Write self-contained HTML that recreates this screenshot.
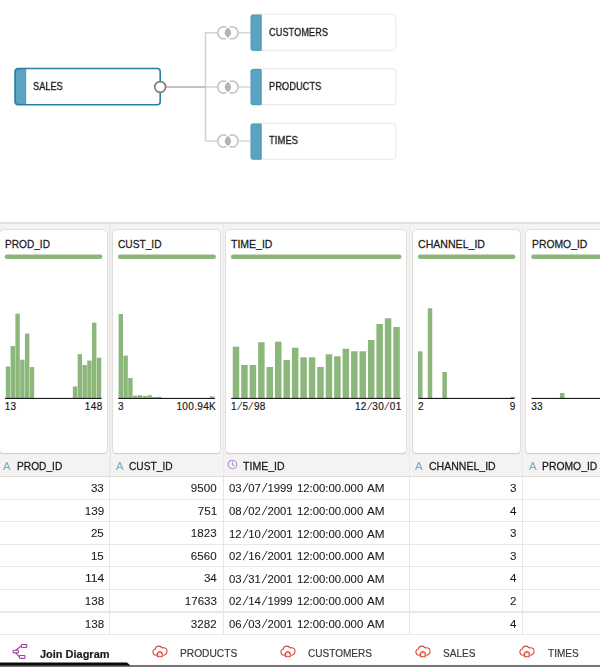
<!DOCTYPE html>
<html lang="en"><head><meta charset="utf-8"><title>Join Diagram</title>
<style>
html,body{margin:0;padding:0;background:#fff}
body{width:600px;height:667px;overflow:hidden;position:relative;font-family:"Liberation Sans",sans-serif;color:#1b1917}
#app{position:absolute;left:0;top:0;width:600px;height:667px;overflow:hidden;background:#fff}
.t{position:absolute;white-space:nowrap;line-height:1;display:block;-webkit-text-stroke:0.17px currentColor}
.dg,.hs,.ic{position:absolute;left:0;top:0;overflow:visible}
.sl{font-style:normal;display:inline-block;width:6.6px;text-align:center;transform:skewX(-16deg) scaleY(1.1);-webkit-text-stroke:0}
.s2{width:5.6px}
.lb{letter-spacing:0.35px}
.t.dl{-webkit-text-stroke:0.32px currentColor;will-change:transform}
.t.hd{-webkit-text-stroke:0.26px currentColor}
.t.n{-webkit-text-stroke:0.08px currentColor}
.sep{position:absolute;left:0;top:222.3px;width:600px;height:1.6px;background:#e0dfdd}
.grey{position:absolute;left:0;top:224px;width:600px;height:252px;background:#f4f3f1}
.card{position:absolute;top:229.7px;height:223.4px;background:#fff;border-radius:4px;box-shadow:0 0 0 0.8px #dbdad8,0 0.9px 1px 0 rgba(0,0,0,.27);box-sizing:border-box}
.tbl{position:absolute;left:0;top:475.9px;width:600px;height:158.7px;background:#fff;border-top:1px solid #dfdedc;border-bottom:1.2px solid #d9d8d6;box-sizing:border-box}
.hl{position:absolute;left:0;width:600px;height:1.3px;margin-top:-0.15px;background:#e9e8e6}
.vl{position:absolute;top:224px;height:252px;width:1.6px;margin-left:-0.3px;background:#ebeae8}
.vl2{position:absolute;top:476.5px;height:158px;width:1.3px;margin-left:-0.15px;background:#e7e6e4}
.tabs{position:absolute;left:0;top:635px;width:600px;height:32px;background:#fff}
.botline{position:absolute;left:0;top:664.6px;width:600px;height:2.4px;background:#757575}
</style></head><body><div id="app">
<section id="diagram"><svg class="dg" width="600" height="222" viewBox="0 0 600 222"><path d="M217 32.8 H205.5 V141.0 H217" fill="none" stroke="#d3d3d3" stroke-width="1.5"/><path d="M205.5 87.0 H217" fill="none" stroke="#d3d3d3" stroke-width="1.5"/><path d="M239 32.8 H250" stroke="#d6d6d6" stroke-width="1.5"/><path d="M239 87 H250" stroke="#d6d6d6" stroke-width="1.5"/><path d="M239 141 H250" stroke="#d6d6d6" stroke-width="1.5"/><path d="M165.5 87.0 H205.5" stroke="#b1b1b1" stroke-width="1.5"/><path d="M226.10 27.28 A6 6 0 1 0 226.10 38.32 M229.70 27.28 A6 6 0 1 1 229.70 38.32" fill="none" stroke="#c3c3c3" stroke-width="1.5"/><path d="M227.90 27.60 Q234.50 32.80 227.90 38.00 Q221.30 32.80 227.90 27.60 Z" fill="#b3b3b3"/><path d="M226.10 81.48 A6 6 0 1 0 226.10 92.52 M229.70 81.48 A6 6 0 1 1 229.70 92.52" fill="none" stroke="#c3c3c3" stroke-width="1.5"/><path d="M227.90 81.80 Q234.50 87.00 227.90 92.20 Q221.30 87.00 227.90 81.80 Z" fill="#b3b3b3"/><path d="M226.10 135.48 A6 6 0 1 0 226.10 146.52 M229.70 135.48 A6 6 0 1 1 229.70 146.52" fill="none" stroke="#c3c3c3" stroke-width="1.5"/><path d="M227.90 135.80 Q234.50 141.00 227.90 146.20 Q221.30 141.00 227.90 135.80 Z" fill="#b3b3b3"/><rect x="251.3" y="14.2" width="144.5" height="36.1" rx="3" fill="#fff" stroke="#e7e7e7"/><path d="M252.5 15 h8.7 v35.3 h-8.7 a1.5 1.5 0 0 1 -1.5 -1.5 v-32.3 a1.5 1.5 0 0 1 1.5 -1.5z" fill="#5ba4c1" stroke="#4899b9" stroke-width="1"/><rect x="251.3" y="68.7" width="144.5" height="36" rx="3" fill="#fff" stroke="#e7e7e7"/><path d="M252.5 69.5 h8.7 v35.2 h-8.7 a1.5 1.5 0 0 1 -1.5 -1.5 v-32.2 a1.5 1.5 0 0 1 1.5 -1.5z" fill="#5ba4c1" stroke="#4899b9" stroke-width="1"/><rect x="251.3" y="123.2" width="144.5" height="36" rx="3" fill="#fff" stroke="#e7e7e7"/><path d="M252.5 124 h8.7 v35.2 h-8.7 a1.5 1.5 0 0 1 -1.5 -1.5 v-32.2 a1.5 1.5 0 0 1 1.5 -1.5z" fill="#5ba4c1" stroke="#4899b9" stroke-width="1"/><rect x="15.2" y="68.5" width="145" height="36.2" rx="3" fill="#fff"/><path d="M17.5 69 h8.2 v35.2 h-8.2 a2.5 2.5 0 0 1 -2.5 -2.5 v-30.2 a2.5 2.5 0 0 1 2.5 -2.5z" fill="#5ba4c1" stroke="#4899b9" stroke-width="1"/><rect x="15.2" y="68.5" width="145" height="36.2" rx="3" fill="none" stroke="#2a7fa3" stroke-width="1.6"/><circle cx="160.2" cy="87.0" r="5.4" fill="#fff" stroke="#7f7a75" stroke-width="1.6"/></svg><span class="t dl" id="t0" style="top:81.24px;font-size:10.7px;left:32.80px;transform-origin:0 0;transform:scaleX(0.8646);">SALES</span><span class="t dl" id="t1" style="top:27.24px;font-size:10.7px;left:268.90px;transform-origin:0 0;transform:scaleX(0.8665);">CUSTOMERS</span><span class="t dl" id="t2" style="top:81.24px;font-size:10.7px;left:268.90px;transform-origin:0 0;transform:scaleX(0.8736);">PRODUCTS</span><span class="t dl" id="t3" style="top:135.24px;font-size:10.7px;left:268.90px;transform-origin:0 0;transform:scaleX(0.8876);">TIMES</span></section>
<div class="sep"></div><div class="grey"></div>
<section id="profile"><div class="card" style="left:-0.50px;width:107.50px"></div><span class="t hd" id="t4" style="top:238.48px;font-size:11.6px;left:5.00px;transform-origin:0 0;transform:scaleX(0.8730);">PROD_ID</span><span class="t lb" id="t5" style="top:402.14px;font-size:10px;left:4.70px;transform-origin:0 0;">13</span><span class="t lb" id="t6" style="top:402.14px;font-size:10px;right:497.40px;transform-origin:100% 0;">148</span><div class="card" style="left:112.70px;width:107.80px"></div><span class="t hd" id="t7" style="top:238.48px;font-size:11.6px;left:118.20px;transform-origin:0 0;transform:scaleX(0.8769);">CUST_ID</span><span class="t lb" id="t8" style="top:402.14px;font-size:10px;left:117.90px;transform-origin:0 0;">3</span><span class="t lb" id="t9" style="top:402.14px;font-size:10px;right:383.90px;transform-origin:100% 0;">100.94K</span><div class="card" style="left:225.70px;width:180.30px"></div><span class="t hd" id="t10" style="top:238.48px;font-size:11.6px;left:231.20px;transform-origin:0 0;transform:scaleX(0.9049);">TIME_ID</span><span class="t lb" id="t11" style="top:402.14px;font-size:10px;left:230.90px;transform-origin:0 0;">1<i class="sl s2">/</i>5<i class="sl s2">/</i>98</span><span class="t lb" id="t12" style="top:402.14px;font-size:10px;right:198.40px;transform-origin:100% 0;">12<i class="sl s2">/</i>30<i class="sl s2">/</i>01</span><div class="card" style="left:412.70px;width:107.30px"></div><span class="t hd" id="t13" style="top:238.48px;font-size:11.6px;left:418.20px;transform-origin:0 0;transform:scaleX(0.9121);">CHANNEL_ID</span><span class="t lb" id="t14" style="top:402.14px;font-size:10px;left:417.90px;transform-origin:0 0;">2</span><span class="t lb" id="t15" style="top:402.14px;font-size:10px;right:84.40px;transform-origin:100% 0;">9</span><div class="card" style="left:526.00px;width:114.00px"></div><span class="t hd" id="t16" style="top:238.48px;font-size:11.6px;left:531.50px;transform-origin:0 0;transform:scaleX(0.8942);">PROMO_ID</span><span class="t lb" id="t17" style="top:402.14px;font-size:10px;left:531.20px;transform-origin:0 0;">33</span><svg class="hs" width="600" height="667" viewBox="0 0 600 667"><g fill="#8bb77a"><rect x="4.70" y="254.4" width="97.70" height="4.5" rx="2.25"/><rect x="5.80" y="366.40" width="4.40" height="31.60"/><rect x="10.59" y="346.10" width="4.40" height="51.90"/><rect x="15.38" y="313.70" width="4.40" height="84.30"/><rect x="20.17" y="359.70" width="4.40" height="38.30"/><rect x="24.96" y="333.60" width="4.40" height="64.40"/><rect x="29.75" y="367.10" width="4.40" height="30.90"/><rect x="72.86" y="386.50" width="4.40" height="11.50"/><rect x="77.65" y="354.10" width="4.40" height="43.90"/><rect x="82.44" y="365.00" width="4.40" height="33.00"/><rect x="87.23" y="360.60" width="4.40" height="37.40"/><rect x="92.02" y="322.70" width="4.40" height="75.30"/><rect x="96.81" y="357.70" width="4.40" height="40.30"/><rect x="117.90" y="254.4" width="98.00" height="4.5" rx="2.25"/><rect x="118.60" y="314.00" width="4.40" height="84.00"/><rect x="123.40" y="355.60" width="4.40" height="42.40"/><rect x="128.20" y="378.00" width="4.40" height="20.00"/><rect x="133.00" y="395.60" width="4.40" height="2.40"/><rect x="137.80" y="395.20" width="4.40" height="2.80"/><rect x="142.60" y="396.00" width="4.40" height="2.00"/><rect x="147.40" y="395.20" width="4.40" height="2.80"/><rect x="152.20" y="397.00" width="4.40" height="1.00"/><rect x="157.00" y="396.80" width="4.40" height="1.20"/><rect x="209.80" y="396.40" width="4.40" height="1.60"/><rect x="230.90" y="254.4" width="170.50" height="4.5" rx="2.25"/><rect x="232.75" y="346.70" width="6.50" height="51.30"/><rect x="241.20" y="365.00" width="6.50" height="33.00"/><rect x="249.65" y="365.00" width="6.50" height="33.00"/><rect x="258.10" y="342.30" width="6.50" height="55.70"/><rect x="266.55" y="367.00" width="6.50" height="31.00"/><rect x="275.00" y="341.70" width="6.50" height="56.30"/><rect x="283.45" y="360.00" width="6.50" height="38.00"/><rect x="291.90" y="347.70" width="6.50" height="50.30"/><rect x="300.35" y="357.30" width="6.50" height="40.70"/><rect x="308.80" y="357.30" width="6.50" height="40.70"/><rect x="317.25" y="367.00" width="6.50" height="31.00"/><rect x="325.70" y="354.30" width="6.50" height="43.70"/><rect x="334.15" y="356.30" width="6.50" height="41.70"/><rect x="342.60" y="348.70" width="6.50" height="49.30"/><rect x="351.05" y="351.30" width="6.50" height="46.70"/><rect x="359.50" y="351.30" width="6.50" height="46.70"/><rect x="367.95" y="340.00" width="6.50" height="58.00"/><rect x="376.40" y="324.00" width="6.50" height="74.00"/><rect x="384.85" y="318.30" width="6.50" height="79.70"/><rect x="393.30" y="327.00" width="6.50" height="71.00"/><rect x="417.90" y="254.4" width="97.50" height="4.5" rx="2.25"/><rect x="418.00" y="351.30" width="4.50" height="46.70"/><rect x="427.76" y="308.30" width="4.50" height="89.70"/><rect x="442.40" y="372.00" width="4.50" height="26.00"/><rect x="510.72" y="396.80" width="4.50" height="1.20"/><rect x="531.20" y="254.4" width="104.20" height="4.5" rx="2.25"/><rect x="559.98" y="393.00" width="4.50" height="5.00"/></g><rect x="5.00" y="397.9" width="96.50" height="1" fill="#000"/><rect x="118.20" y="397.9" width="96.80" height="1" fill="#000"/><rect x="231.20" y="397.9" width="169.30" height="1" fill="#000"/><rect x="418.20" y="397.9" width="96.30" height="1" fill="#000"/><rect x="531.50" y="397.9" width="103.00" height="1" fill="#000"/></svg></section>
<section id="grid"><div class="tbl"></div><div class="hl" style="top:498.65px"></div><div class="hl" style="top:521.20px"></div><div class="hl" style="top:543.75px"></div><div class="hl" style="top:566.30px"></div><div class="hl" style="top:588.85px"></div><div class="hl" style="top:611.40px"></div><div class="hl" style="top:633.95px"></div><div class="vl" style="left:109.25px"></div><div class="vl2" style="left:109.25px"></div><div class="vl" style="left:223.20px"></div><div class="vl2" style="left:223.20px"></div><div class="vl" style="left:409.00px"></div><div class="vl2" style="left:409.00px"></div><div class="vl" style="left:521.90px"></div><div class="vl2" style="left:521.90px"></div><span class="t " id="t18" style="top:460.08px;font-size:11.6px;left:2.50px;transform-origin:0 0;transform:scaleX(0.9826);color:#7bb0c9;">A</span><span class="t hd" id="t19" style="top:460.08px;font-size:11.6px;left:16.70px;transform-origin:0 0;transform:scaleX(0.8788);">PROD_ID</span><span class="t " id="t20" style="top:460.08px;font-size:11.6px;left:115.70px;transform-origin:0 0;transform:scaleX(0.9826);color:#7bb0c9;">A</span><span class="t hd" id="t21" style="top:460.08px;font-size:11.6px;left:129.20px;transform-origin:0 0;transform:scaleX(0.8789);">CUST_ID</span><svg class="ic" style="left:227px;top:459.1px" width="11" height="11" viewBox="0 0 11 11"><circle cx="5.45" cy="5.45" r="4.3" fill="none" stroke="#aa93cb" stroke-width="1.05"/><path d="M5.45 2.6 V5.6 L7.6 6.9" fill="none" stroke="#aa93cb" stroke-width="1.05"/></svg><span class="t hd" id="t22" style="top:460.08px;font-size:11.6px;left:243.00px;transform-origin:0 0;transform:scaleX(0.9115);">TIME_ID</span><span class="t " id="t23" style="top:460.08px;font-size:11.6px;left:415.30px;transform-origin:0 0;transform:scaleX(0.9826);color:#7bb0c9;">A</span><span class="t hd" id="t24" style="top:460.08px;font-size:11.6px;left:429.30px;transform-origin:0 0;transform:scaleX(0.9081);">CHANNEL_ID</span><span class="t " id="t25" style="top:460.08px;font-size:11.6px;left:528.50px;transform-origin:0 0;transform:scaleX(0.9826);color:#7bb0c9;">A</span><span class="t hd" id="t26" style="top:460.08px;font-size:11.6px;left:542.30px;transform-origin:0 0;transform:scaleX(0.8942);">PROMO_ID</span><span class="t n" id="t27" style="top:483.27px;font-size:11.5px;right:496.10px;transform-origin:100% 0;transform:scaleX(1.0081);">33</span><span class="t n" id="t28" style="top:483.27px;font-size:11.5px;right:383.00px;transform-origin:100% 0;transform:scaleX(1.0081);">9500</span><span class="t n" id="t29" style="top:483.43px;font-size:11.3px;left:229.20px;transform-origin:0 0;transform:scaleX(1.0018);">03<i class="sl">/</i>07<i class="sl">/</i>1999</span><span class="t n" id="t30" style="top:483.43px;font-size:11.3px;left:297.20px;transform-origin:0 0;transform:scaleX(1.0035);">12:00:00.000</span><span class="t n" id="t31" style="top:483.43px;font-size:11.3px;left:366.60px;transform-origin:0 0;transform:scaleX(1.0382);">AM</span><span class="t n" id="t32" style="top:483.27px;font-size:11.5px;right:83.20px;transform-origin:100% 0;transform:scaleX(1.0068);">3</span><span class="t n" id="t33" style="top:505.82px;font-size:11.5px;right:496.10px;transform-origin:100% 0;transform:scaleX(1.0085);">139</span><span class="t n" id="t34" style="top:505.82px;font-size:11.5px;right:383.00px;transform-origin:100% 0;transform:scaleX(1.0085);">751</span><span class="t n" id="t35" style="top:505.98px;font-size:11.3px;left:229.20px;transform-origin:0 0;transform:scaleX(1.0018);">08<i class="sl">/</i>02<i class="sl">/</i>2001</span><span class="t n" id="t36" style="top:505.98px;font-size:11.3px;left:297.20px;transform-origin:0 0;transform:scaleX(1.0035);">12:00:00.000</span><span class="t n" id="t37" style="top:505.98px;font-size:11.3px;left:366.60px;transform-origin:0 0;transform:scaleX(1.0382);">AM</span><span class="t n" id="t38" style="top:505.82px;font-size:11.5px;right:83.20px;transform-origin:100% 0;transform:scaleX(1.0068);">4</span><span class="t n" id="t39" style="top:528.37px;font-size:11.5px;right:496.10px;transform-origin:100% 0;transform:scaleX(1.0081);">25</span><span class="t n" id="t40" style="top:528.37px;font-size:11.5px;right:383.00px;transform-origin:100% 0;transform:scaleX(1.0081);">1823</span><span class="t n" id="t41" style="top:528.53px;font-size:11.3px;left:229.20px;transform-origin:0 0;transform:scaleX(1.0018);">12<i class="sl">/</i>10<i class="sl">/</i>2001</span><span class="t n" id="t42" style="top:528.53px;font-size:11.3px;left:297.20px;transform-origin:0 0;transform:scaleX(1.0035);">12:00:00.000</span><span class="t n" id="t43" style="top:528.53px;font-size:11.3px;left:366.60px;transform-origin:0 0;transform:scaleX(1.0382);">AM</span><span class="t n" id="t44" style="top:528.37px;font-size:11.5px;right:83.20px;transform-origin:100% 0;transform:scaleX(1.0068);">3</span><span class="t n" id="t45" style="top:550.92px;font-size:11.5px;right:496.10px;transform-origin:100% 0;transform:scaleX(1.0081);">15</span><span class="t n" id="t46" style="top:550.92px;font-size:11.5px;right:383.00px;transform-origin:100% 0;transform:scaleX(1.0081);">6560</span><span class="t n" id="t47" style="top:551.08px;font-size:11.3px;left:229.20px;transform-origin:0 0;transform:scaleX(1.0018);">02<i class="sl">/</i>16<i class="sl">/</i>2001</span><span class="t n" id="t48" style="top:551.08px;font-size:11.3px;left:297.20px;transform-origin:0 0;transform:scaleX(1.0035);">12:00:00.000</span><span class="t n" id="t49" style="top:551.08px;font-size:11.3px;left:366.60px;transform-origin:0 0;transform:scaleX(1.0382);">AM</span><span class="t n" id="t50" style="top:550.92px;font-size:11.5px;right:83.20px;transform-origin:100% 0;transform:scaleX(1.0068);">3</span><span class="t n" id="t51" style="top:573.47px;font-size:11.5px;right:496.10px;transform-origin:100% 0;transform:scaleX(1.0549);">114</span><span class="t n" id="t52" style="top:573.47px;font-size:11.5px;right:383.00px;transform-origin:100% 0;transform:scaleX(1.0081);">34</span><span class="t n" id="t53" style="top:573.63px;font-size:11.3px;left:229.20px;transform-origin:0 0;transform:scaleX(1.0018);">03<i class="sl">/</i>31<i class="sl">/</i>2001</span><span class="t n" id="t54" style="top:573.63px;font-size:11.3px;left:297.20px;transform-origin:0 0;transform:scaleX(1.0035);">12:00:00.000</span><span class="t n" id="t55" style="top:573.63px;font-size:11.3px;left:366.60px;transform-origin:0 0;transform:scaleX(1.0382);">AM</span><span class="t n" id="t56" style="top:573.47px;font-size:11.5px;right:83.20px;transform-origin:100% 0;transform:scaleX(1.0068);">4</span><span class="t n" id="t57" style="top:596.02px;font-size:11.5px;right:496.10px;transform-origin:100% 0;transform:scaleX(1.0085);">138</span><span class="t n" id="t58" style="top:596.02px;font-size:11.5px;right:383.00px;transform-origin:100% 0;transform:scaleX(1.0083);">17633</span><span class="t n" id="t59" style="top:596.18px;font-size:11.3px;left:229.20px;transform-origin:0 0;transform:scaleX(1.0018);">02<i class="sl">/</i>14<i class="sl">/</i>1999</span><span class="t n" id="t60" style="top:596.18px;font-size:11.3px;left:297.20px;transform-origin:0 0;transform:scaleX(1.0035);">12:00:00.000</span><span class="t n" id="t61" style="top:596.18px;font-size:11.3px;left:366.60px;transform-origin:0 0;transform:scaleX(1.0382);">AM</span><span class="t n" id="t62" style="top:596.02px;font-size:11.5px;right:83.20px;transform-origin:100% 0;transform:scaleX(1.0068);">2</span><span class="t n" id="t63" style="top:618.57px;font-size:11.5px;right:496.10px;transform-origin:100% 0;transform:scaleX(1.0085);">138</span><span class="t n" id="t64" style="top:618.57px;font-size:11.5px;right:383.00px;transform-origin:100% 0;transform:scaleX(1.0081);">3282</span><span class="t n" id="t65" style="top:618.73px;font-size:11.3px;left:229.20px;transform-origin:0 0;transform:scaleX(1.0018);">06<i class="sl">/</i>03<i class="sl">/</i>2001</span><span class="t n" id="t66" style="top:618.73px;font-size:11.3px;left:297.20px;transform-origin:0 0;transform:scaleX(1.0035);">12:00:00.000</span><span class="t n" id="t67" style="top:618.73px;font-size:11.3px;left:366.60px;transform-origin:0 0;transform:scaleX(1.0382);">AM</span><span class="t n" id="t68" style="top:618.57px;font-size:11.5px;right:83.20px;transform-origin:100% 0;transform:scaleX(1.0068);">4</span></section>
<nav id="tabs"><div class="tabs"></div><div class="botline"></div><svg class="ic" style="left:0;top:655px" width="140" height="12" viewBox="0 0 140 12"><path d="M0 7.4 H127 L130.5 10.4 H0 Z" fill="#0a0a0a"/></svg><svg class="ic" style="left:11px;top:642px" width="18" height="18" viewBox="0 0 18 18" fill="#fff" stroke="#a044a8" stroke-width="1.15"><path d="M4.6 8.2 L10.2 4 M4.6 10.6 L8.2 14.6" fill="none"/><rect x="10.4" y="2.6" width="5.4" height="2.9" rx="0.8"/><rect x="2.1" y="8.2" width="5.4" height="2.7" rx="0.8"/><rect x="8.4" y="13.5" width="5.6" height="2.9" rx="0.8"/></svg><span class="t " id="t69" style="top:648.52px;font-size:11.2px;left:40.00px;transform-origin:0 0;transform:scaleX(0.9806);font-weight:700;">Join Diagram</span><svg class="ic" style="left:151.50px;top:645.3px" width="17" height="14" viewBox="0 0 17 14"><path d="M4.6 10.1 C2.2 10 0.9 8.6 0.9 6.9 C0.9 5.4 1.9 4.3 3.3 4 C3.7 2.2 5.1 1.1 6.9 1.1 C8.3 1.1 9.5 1.8 10.2 2.9 C10.6 2.8 11 2.7 11.4 2.7 C13.4 2.7 15 4.3 15 6.3 C15 8.3 13.7 9.9 11.6 10.1" fill="none" stroke="#d8483a" stroke-width="1.1" stroke-linecap="round"/><path d="M5.4 7.9 L7.8 6.5 L10.2 7.9 V11.8 H5.4 Z" fill="#fbd9c6" stroke="#d64a30" stroke-width="1.1" stroke-linejoin="miter"/><path d="M7.4 9.1 h1.7 v1.7 h-1.7z" fill="#fff"/></svg><span class="t " id="t70" style="top:647.69px;font-size:11px;left:179.60px;transform-origin:0 0;transform:scaleX(0.9266);color:#3a3836;">PRODUCTS</span><svg class="ic" style="left:280.30px;top:645.3px" width="17" height="14" viewBox="0 0 17 14"><path d="M4.6 10.1 C2.2 10 0.9 8.6 0.9 6.9 C0.9 5.4 1.9 4.3 3.3 4 C3.7 2.2 5.1 1.1 6.9 1.1 C8.3 1.1 9.5 1.8 10.2 2.9 C10.6 2.8 11 2.7 11.4 2.7 C13.4 2.7 15 4.3 15 6.3 C15 8.3 13.7 9.9 11.6 10.1" fill="none" stroke="#d8483a" stroke-width="1.1" stroke-linecap="round"/><path d="M5.4 7.9 L7.8 6.5 L10.2 7.9 V11.8 H5.4 Z" fill="#fbd9c6" stroke="#d64a30" stroke-width="1.1" stroke-linejoin="miter"/><path d="M7.4 9.1 h1.7 v1.7 h-1.7z" fill="#fff"/></svg><span class="t " id="t71" style="top:647.69px;font-size:11px;left:308.00px;transform-origin:0 0;transform:scaleX(0.9131);color:#3a3836;">CUSTOMERS</span><svg class="ic" style="left:415.20px;top:645.3px" width="17" height="14" viewBox="0 0 17 14"><path d="M4.6 10.1 C2.2 10 0.9 8.6 0.9 6.9 C0.9 5.4 1.9 4.3 3.3 4 C3.7 2.2 5.1 1.1 6.9 1.1 C8.3 1.1 9.5 1.8 10.2 2.9 C10.6 2.8 11 2.7 11.4 2.7 C13.4 2.7 15 4.3 15 6.3 C15 8.3 13.7 9.9 11.6 10.1" fill="none" stroke="#d8483a" stroke-width="1.1" stroke-linecap="round"/><path d="M5.4 7.9 L7.8 6.5 L10.2 7.9 V11.8 H5.4 Z" fill="#fbd9c6" stroke="#d64a30" stroke-width="1.1" stroke-linejoin="miter"/><path d="M7.4 9.1 h1.7 v1.7 h-1.7z" fill="#fff"/></svg><span class="t " id="t72" style="top:647.69px;font-size:11px;left:443.30px;transform-origin:0 0;transform:scaleX(0.9135);color:#3a3836;">SALES</span><svg class="ic" style="left:518.50px;top:645.3px" width="17" height="14" viewBox="0 0 17 14"><path d="M4.6 10.1 C2.2 10 0.9 8.6 0.9 6.9 C0.9 5.4 1.9 4.3 3.3 4 C3.7 2.2 5.1 1.1 6.9 1.1 C8.3 1.1 9.5 1.8 10.2 2.9 C10.6 2.8 11 2.7 11.4 2.7 C13.4 2.7 15 4.3 15 6.3 C15 8.3 13.7 9.9 11.6 10.1" fill="none" stroke="#d8483a" stroke-width="1.1" stroke-linecap="round"/><path d="M5.4 7.9 L7.8 6.5 L10.2 7.9 V11.8 H5.4 Z" fill="#fbd9c6" stroke="#d64a30" stroke-width="1.1" stroke-linejoin="miter"/><path d="M7.4 9.1 h1.7 v1.7 h-1.7z" fill="#fff"/></svg><span class="t " id="t73" style="top:647.69px;font-size:11px;left:547.70px;transform-origin:0 0;transform:scaleX(0.9130);color:#3a3836;">TIMES</span></nav>
</div></body></html>
